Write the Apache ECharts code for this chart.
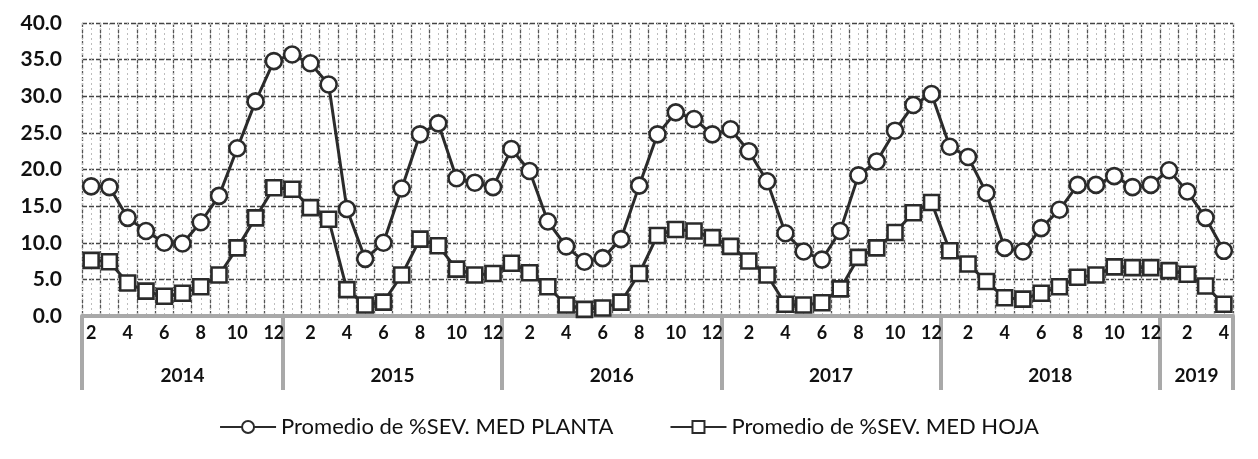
<!DOCTYPE html>
<html><head><meta charset="utf-8">
<script src="https://cdn.jsdelivr.net/npm/echarts@6/dist/echarts.min.js"></script>
<style>html,body{margin:0;padding:0;background:#fff}#c{width:1258px;height:459px}</style>
</head><body><div id="c"></div>
<script>
// Year groups and months per year
const years = ['2014','2015','2016','2017','2018','2019'];
const monthsPerYear = [[2,3,4,5,6,7,8,9,10,11,12],[1,2,3,4,5,6,7,8,9,10,11,12],[1,2,3,4,5,6,7,8,9,10,11,12],[1,2,3,4,5,6,7,8,9,10,11,12],[1,2,3,4,5,6,7,8,9,10,11,12],[1,2,3,4]];
const yTicks = [0,5,10,15,20,25,30,35,40];

const planta = [
  17.7,17.6,13.4,11.6,10.0,9.9,12.8,16.4,22.9,29.3,34.8,
  35.7,34.5,31.6,14.6,7.8,10.0,17.4,24.8,26.3,18.8,18.2,17.6,
  22.8,19.8,12.9,9.5,7.4,7.9,10.5,17.8,24.8,27.8,26.9,24.8,
  25.5,22.5,18.4,11.3,8.8,7.7,11.6,19.2,21.1,25.3,28.8,30.3,
  23.1,21.7,16.8,9.3,8.8,12.0,14.5,17.9,17.9,19.1,17.6,17.9,
  19.9,17.0,13.4,8.9
];
const hoja = [
  7.6,7.4,4.5,3.4,2.7,3.1,4.0,5.6,9.3,13.4,17.5,
  17.3,14.8,13.2,3.6,1.5,1.9,5.6,10.5,9.6,6.4,5.6,5.8,
  7.2,5.9,4.0,1.5,0.9,1.1,1.9,5.8,11.0,11.8,11.6,10.7,
  9.5,7.5,5.6,1.6,1.5,1.8,3.7,8.0,9.3,11.4,14.1,15.5,
  8.9,7.1,4.7,2.5,2.3,3.1,4.0,5.3,5.6,6.7,6.6,6.6,
  6.2,5.7,4.1,1.6
];

const cats = [];
const bounds = [0];
const mids = [];
monthsPerYear.forEach((ms, i) => {
  const start = cats.length;
  ms.forEach(m => cats.push(String(m)));
  bounds.push(cats.length);
  mids.push((start + cats.length) / 2);
});
const N = cats.length;

const chart = echarts.init(document.getElementById('c'));
const font = 'Lato, "Open Sans", sans-serif';
chart.setOption({
  animation: false,
  textStyle: { fontFamily: font },
  grid: { left: 82, right: 25, top: 23, bottom: 143, containLabel: false },
  legend: {
    bottom: 16, left: 'center',
    itemWidth: 56, itemHeight: 15, itemGap: 56,
    textStyle: { fontSize: 22, color: '#111', fontFamily: font },
    data: ['Promedio de %SEV. MED PLANTA', 'Promedio de %SEV. MED HOJA']
  },
  xAxis: [
    {
      type: 'category', data: cats, boundaryGap: true, position: 'bottom',
      axisLine: { show: true, lineStyle: { color: '#a9a9a9', width: 4 } },
      axisTick: { show: false },
      axisLabel: { interval: 1, margin: 8, fontSize: 18, fontWeight: 'bold', color: '#111', fontFamily: font },
      splitLine: { show: true, interval: 0, lineStyle: { color: '#555', width: 1.3, type: [4, 2] } }
    },
    {
      type: 'value', min: 0, max: N, position: 'bottom',
      axisLine: { show: false },
      axisTick: { show: true, customValues: bounds, length: 74, inside: false, lineStyle: { color: '#a9a9a9', width: 4 } },
      axisLabel: {
        show: true, customValues: mids, margin: 50, fontSize: 19, fontWeight: 'bold', color: '#111', fontFamily: font,
        formatter: v => { const i = mids.indexOf(v); return i >= 0 ? years[i] : ''; }
      },
      splitLine: { show: false }
    },
    {
      type: 'value', min: 0, max: N * 2, interval: 1, show: true,
      axisLine: { show: false }, axisTick: { show: false }, axisLabel: { show: false },
      splitLine: { show: true, lineStyle: { color: '#bdbdbd', width: 1, type: [2, 3] } }
    }
  ],
  yAxis: {
    type: 'value', min: yTicks[0], max: yTicks[yTicks.length - 1], interval: 5,
    axisLine: { show: false }, axisTick: { show: false },
    axisLabel: { margin: 20, fontSize: 21, fontWeight: 'bold', color: '#111', fontFamily: font, formatter: v => v.toFixed(1) },
    splitLine: { show: true, lineStyle: { color: '#444', width: 1.4, type: [5, 2] } }
  },
  series: [
    {
      name: 'Promedio de %SEV. MED PLANTA', type: 'line', xAxisIndex: 0, data: planta,
      symbol: 'circle', symbolSize: 16, showAllSymbol: true,
      lineStyle: { color: '#2b2b2b', width: 3 },
      itemStyle: { color: '#fff', borderColor: '#2b2b2b', borderWidth: 2.6 },
      z: 3
    },
    {
      name: 'Promedio de %SEV. MED HOJA', type: 'line', xAxisIndex: 0, data: hoja,
      symbol: 'rect', symbolSize: 15, showAllSymbol: true,
      lineStyle: { color: '#2b2b2b', width: 3 },
      itemStyle: { color: '#fff', borderColor: '#2b2b2b', borderWidth: 2.6 },
      z: 3
    }
  ]
});
</script></body></html>
